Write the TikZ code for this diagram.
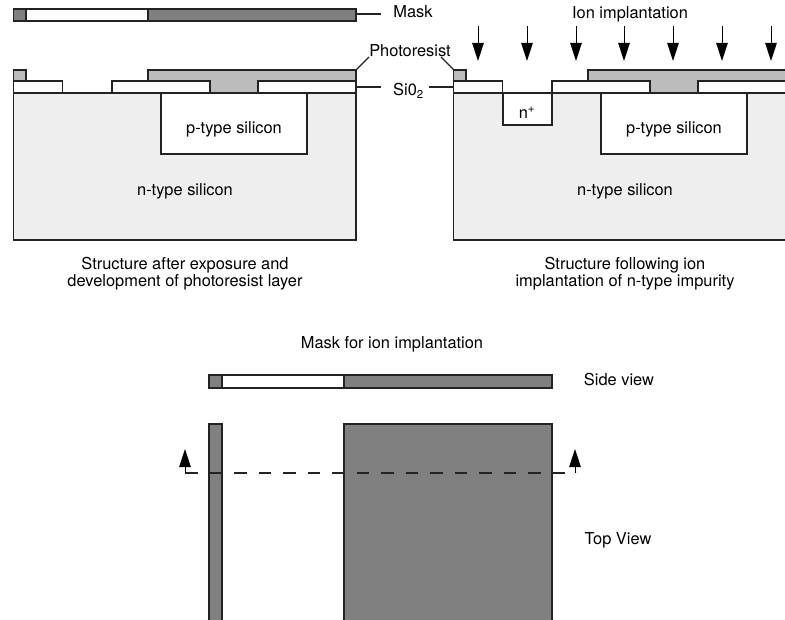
\documentclass[tikz,border=0pt]{standalone}
\usepackage{fontspec}
\setmainfont{TeX Gyre Heros}
\usepackage{tikz}
\usepackage{xcolor}
\usetikzlibrary{arrows.meta}
\definecolor{maskgray}{RGB}{128, 128, 128}
\definecolor{resistgray}{RGB}{188, 188, 188}
\definecolor{bulkgray}{RGB}{238, 238, 238}
\definecolor{linegray}{RGB}{35, 35, 35}
\tikzset{
part/.style = {draw = linegray, line width = 1.3pt},
leader/.style = {color = linegray, line width = 1.1pt},
label/.style = {inner sep = 0pt, align = center, yshift = -2pt, font = \fontsize{16.4}{17}\selectfont},
ion/.style = {color = black, line width = 1pt, -{Triangle[length = 18pt, width = 11.5pt]}}
}

\begin{document}
\begin{tikzpicture}[x = 1pt, y = -1pt]
\useasboundingbox (0,0) rectangle (785,620);
\clip (0,0) rectangle (785,620);
% exposed wafer, then the same wafer after implantation
\foreach \s in {0,440}
{
\begin{scope}[shift = {(\s,0)}]
\fill[fill = bulkgray] (13.5,93) rectangle (356,240);
\draw[part] (13.5,93) -- (13.5,240) -- (356,240) -- (356,93) -- cycle;
\draw[part, fill = white] (161,93) rectangle (307,154);
\draw[part, fill = resistgray] (13.5,81) rectangle (26,70);
\draw[part, fill = resistgray] (148,81) -- (148,70) -- (356,70) -- (356,93) -- (148,93) -- cycle;
\draw[part, fill = white] (13.5,81) rectangle (62.5,92.5);
\draw[part, fill = white] (112,81) rectangle (210,92.5);
\draw[part, fill = white] (258,81) rectangle (356,92.5);
\node[label] (ptype\s) at (234,127) {p-type silicon};
\node[label] (ntype\s) at (185,189) {n-type silicon};
\end{scope}
}
\draw[part, fill = white] (503,93) rectangle (552,125);
\node[label] (nplus) at (527,111) {n\textsuperscript{+}};
% side view of the mask
\draw[part, fill = maskgray] (13.5,9) rectangle (356,21);
\draw[part, fill = white] (26,9) rectangle (148,21);
\draw[part, fill = maskgray] (209,375) rectangle (552,388);
\draw[part, fill = white] (222,375) rectangle (344,388);
% top view of the mask
\draw[part, fill = maskgray] (209,424) rectangle (222,630);
\draw[part, fill = maskgray] (344,424) rectangle (552,630);
% labels and leaders
\node[label] (masklabel) at (413,10) {Mask};
\node[label] (resistlabel) at (410,49) {Photoresist};
\node[label, anchor = west] (oxidelabel) at (393,89) {Si0\textsubscript{2}};
\coordinate (maskstart) at (356,14);
\coordinate (maskend) at (381,14);
\coordinate (oxideleft) at (356,87);
\coordinate (oxideend) at (381,87);
\coordinate (oxidestart) at (429,87);
\coordinate (oxideright) at (454,87);
\coordinate (resistleft) at (356,70);
\coordinate (resistend) at (369,57);
\coordinate (resiststart) at (441,57);
\coordinate (resistright) at (454,70);
\draw[leader] (maskstart) -- (maskend);
\draw[leader] (oxideleft) -- (oxideend);
\draw[leader] (oxidestart) -- (oxideright);
\draw[leader] (resistleft) -- (resistend);
\draw[leader] (resiststart) -- (resistright);
\node[label] (ionlabel) at (630,12) {Ion implantation};
\foreach \x in {478,527,576,624,673,722,771}
{
\coordinate (iontop) at (\x,26);
\coordinate (ionend) at (\x,61);
\draw[ion] (iontop) -- (ionend);
}
\node[label] (leftcaption) at (185,272) {Structure after exposure and\\development of photoresist layer};
\node[label] (rightcaption) at (625,272) {Structure following ion\\implantation of n-type impurity};
\node[label] (masktitle) at (392,342) {Mask for ion implantation};
\node[label] (sidelabel) at (619,378) {Side view};
\node[label] (toplabel) at (618,538) {Top View};
% section line
\coordinate (cutleft) at (185,473);
\coordinate (cutright) at (577,473);
\coordinate (cuttipleft) at (185,449);
\coordinate (cuttipright) at (575,449);
\coordinate (cutfootright) at (575,473);
\draw[leader, dash pattern = on 12.5pt off 12pt] (cutleft) -- (cutright);
\draw[ion] (cutleft) -- (cuttipleft);
\draw[ion] (cutfootright) -- (cuttipright);
\end{tikzpicture}
\end{document}
